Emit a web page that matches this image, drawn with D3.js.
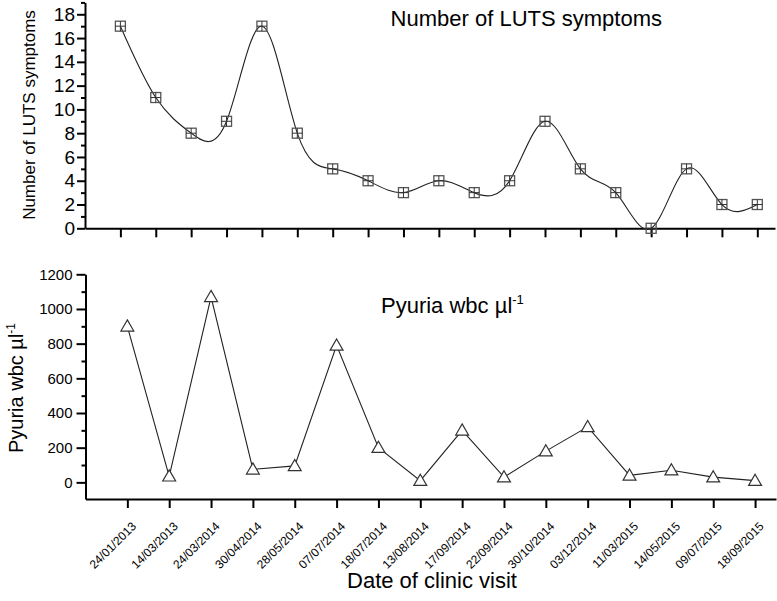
<!DOCTYPE html>
<html>
<head>
<meta charset="utf-8">
<script src="https://cdn.jsdelivr.net/npm/d3@7"></script>
<style>
  body { margin: 0; background: #fff; }
  svg text { font-family: "Liberation Sans", Arial, sans-serif; fill: #000; }
</style>
</head>
<body>
<svg id="chart" width="777" height="601"></svg>
<script>
// LUTS symptoms (top panel) - one value per clinic visit, 19 visits
var lutsValues = [17, 11, 8, 9, 17, 8, 5, 4, 3, 4, 3, 4, 9, 5, 3, 0, 5, 2, 2];
var lutsTicks = [0, 2, 4, 6, 8, 10, 12, 14, 16, 18];

// Pyuria (bottom panel)
var visitDates = ["24/01/2013", "14/03/2013", "24/03/2014", "30/04/2014", "28/05/2014",
    "07/07/2014", "18/07/2014", "13/08/2014", "17/09/2014", "22/09/2014", "30/10/2014",
    "03/12/2014", "11/03/2015", "14/05/2015", "09/07/2015", "18/09/2015"];
var pyuriaValues = [900, 35, 1070, 75, 95, 790, 200, 10, 300, 30, 180, 320, 40, 70, 30, 10];
var pyuriaTicks = [0, 200, 400, 600, 800, 1000, 1200];

var svg = d3.select("#chart");

// ---------- top panel ----------
var xTop = d3.scaleLinear().domain([0, 19.5]).range([85, 775]);
var yTop = d3.scaleLinear().domain([0, 19]).range([228.3, 2.4]);

// minor ticks
svg.append("g")
    .attr("transform", "translate(85,0)")
    .call(d3.axisLeft(yTop).tickValues(d3.range(1, 20, 2)).tickSize(4).tickFormat(""))
    .call(function (g) { g.select(".domain").remove(); })
    .selectAll("line").attr("stroke-width", 2);

var yAxisTop = svg.append("g")
    .attr("transform", "translate(85,0)")
    .call(d3.axisLeft(yTop).tickValues(lutsTicks).tickSize(8).tickPadding(2).tickSizeOuter(0));
yAxisTop.select(".domain").attr("stroke-width", 2);
yAxisTop.selectAll("line").attr("stroke-width", 2);
yAxisTop.selectAll("text").style("font-size", "19px");

var xAxisTop = svg.append("g")
    .attr("transform", "translate(0,228.3)")
    .call(d3.axisBottom(xTop).tickValues(d3.range(1, 20)).tickSize(9).tickFormat("").tickSizeOuter(0));
xAxisTop.select(".domain").attr("stroke-width", 2);
xAxisTop.selectAll("line").attr("stroke-width", 2);

var lineTop = d3.line()
    .x(function (d, i) { return xTop(i + 1); })
    .y(function (d) { return yTop(d); })
    .curve(d3.curveNatural);

svg.append("path")
    .datum(lutsValues)
    .attr("d", lineTop)
    .attr("fill", "none")
    .attr("stroke", "#222")
    .attr("stroke-width", 1.1);

var sq = svg.selectAll(".sq")
    .data(lutsValues)
    .enter().append("g")
    .attr("class", "sq")
    .attr("transform", function (d, i) { return "translate(" + xTop(i + 1) + "," + yTop(d) + ")"; });
sq.append("rect")
    .attr("x", -5).attr("y", -5).attr("width", 10).attr("height", 10)
    .attr("fill", "none").attr("stroke", "#555").attr("stroke-width", 1.3);
sq.append("path")
    .attr("d", "M-5,0H5M0,-5V5")
    .attr("stroke", "#333").attr("stroke-width", 1);

svg.append("text")
    .attr("x", 662).attr("y", 26)
    .attr("text-anchor", "end")
    .style("font-size", "22px")
    .text("Number of LUTS symptoms");

svg.append("text")
    .attr("transform", "translate(35,115) rotate(-90)")
    .attr("text-anchor", "middle")
    .style("font-size", "17px")
    .text("Number of LUTS symptoms");

// ---------- bottom panel ----------
var xBot = d3.scaleLinear().domain([0, 16.5]).range([85.5, 776]);
var yBot = d3.scaleLinear().domain([-96, 1200]).range([499, 274.3]);

svg.append("g")
    .attr("transform", "translate(85.5,0)")
    .call(d3.axisLeft(yBot).tickValues(d3.range(100, 1200, 200)).tickSize(4).tickFormat(""))
    .call(function (g) { g.select(".domain").remove(); })
    .selectAll("line").attr("stroke-width", 2);

var yAxisBot = svg.append("g")
    .attr("transform", "translate(85.5,0)")
    .call(d3.axisLeft(yBot).tickValues(pyuriaTicks).tickSize(9).tickPadding(4).tickSizeOuter(0)
        .tickFormat(d3.format("d")));
yAxisBot.select(".domain").attr("stroke-width", 2);
yAxisBot.selectAll("line").attr("stroke-width", 2);
yAxisBot.selectAll("text").style("font-size", "15px");

var xAxisBot = svg.append("g")
    .attr("transform", "translate(0,499)")
    .call(d3.axisBottom(xBot).tickValues(d3.range(1, 17)).tickSize(9).tickSizeOuter(0)
        .tickFormat(function (d) { return visitDates[d - 1]; }));
xAxisBot.select(".domain").attr("stroke-width", 2);
xAxisBot.selectAll("line").attr("stroke-width", 2);
xAxisBot.selectAll("text")
    .style("font-size", "12px")
    .attr("text-anchor", "end")
    .attr("y", 0).attr("dy", 0)
    .attr("transform", "translate(9,28) rotate(-45)");

svg.append("path")
    .datum(pyuriaValues)
    .attr("d", d3.line()
        .x(function (d, i) { return xBot(i + 1); })
        .y(function (d) { return yBot(d); }))
    .attr("fill", "none")
    .attr("stroke", "#222")
    .attr("stroke-width", 1.1);

svg.selectAll(".tri")
    .data(pyuriaValues)
    .enter().append("path")
    .attr("class", "tri")
    .attr("d", d3.symbol().type(d3.symbolTriangle).size(72))
    .attr("transform", function (d, i) { return "translate(" + xBot(i + 1) + "," + (yBot(d) + 1) + ")"; })
    .attr("fill", "#fff")
    .attr("stroke", "#333")
    .attr("stroke-width", 1.2);

var title2 = svg.append("text")
    .attr("x", 381).attr("y", 313)
    .style("font-size", "22px");
title2.append("tspan").text("Pyuria wbc \u00b5l");
title2.append("tspan").attr("dy", -9).style("font-size", "13px").text("-1");

var ylab2 = svg.append("text")
    .attr("transform", "translate(23,388) rotate(-90)")
    .attr("text-anchor", "middle")
    .style("font-size", "20px");
ylab2.append("tspan").text("Pyuria wbc \u00b5l");
ylab2.append("tspan").attr("dy", -8).style("font-size", "12px").text("-1");

svg.append("text")
    .attr("x", 432).attr("y", 588)
    .attr("text-anchor", "middle")
    .style("font-size", "22px")
    .text("Date of clinic visit");
</script>
</body>
</html>
